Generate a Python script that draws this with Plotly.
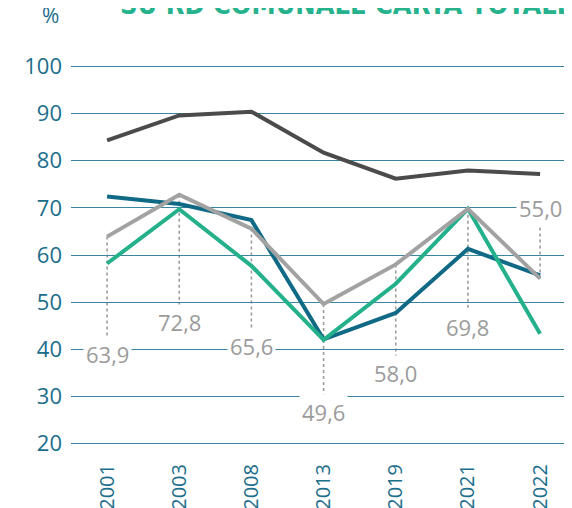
import plotly.graph_objects as go

# ---- data ----
years = ["2001", "2003", "2008", "2013", "2019", "2021", "2022"]
series_dark = [84.3, 89.6, 90.4, 81.7, 76.2, 77.9, 77.2]
series_blue = [72.4, 70.8, 67.4, 42.1, 47.7, 61.3, 55.7]
series_green = [58.2, 69.7, 57.7, 42.0, 53.9, 69.8, 43.3]
series_grey = [63.9, 72.8, 65.6, 49.6, 58.0, 69.8, 55.0]
y_ticks = [20, 30, 40, 50, 60, 70, 80, 90, 100]

# label placement (data units), kept apart from data
label_y = [39.1, 45.7, 40.8, 26.6, 34.9, 44.8, 69.9]
dash_end = [42.9, 49.3, 44.4, 30.4, 38.5, 48.4, 69.9]

TEAL = "#1b6d8b"
GRID = "#3a86a2"
FONT = "Open Sans"

fig = go.Figure()

styles = [
    (series_dark, "#4b4b4b"),
    (series_blue, "#106a86"),
    (series_green, "#24b08b"),
    (series_grey, "#a2a2a2"),
]

# dotted guide lines under the series
for i, v in enumerate(series_grey):
    fig.add_shape(type="line", xref="x", yref="y", x0=i, x1=i, y0=v, y1=dash_end[i],
                  line=dict(color="#9c9c9c", width=1.6, dash="dot"), layer="below")

for vals, col in styles:
    fig.add_trace(go.Scatter(x=years, y=vals, mode="lines",
                             line=dict(color=col, width=4), showlegend=False,
                             hoverinfo="skip"))

for i, v in enumerate(series_grey):
    fig.add_annotation(x=i, y=label_y[i], xref="x", yref="y",
                       text=f"{v:.1f}".replace(".", ","), showarrow=False,
                       font=dict(family=FONT, size=22, color="#9b9b9b"),
                       bgcolor="white", borderpad=2, xanchor="center", yanchor="middle")

fig.add_annotation(x=0.0, xref="paper", xanchor="center", xshift=-21,
                   y=1, yref="paper", yanchor="middle", yshift=50,
                   text="%", showarrow=False,
                   font=dict(family=FONT, size=21, color=TEAL))

fig.add_annotation(x=0.0923, xref="paper", xanchor="left",
                   y=1, yref="paper", yanchor="bottom", yshift=43,
                   text="<b>SU RD COMUNALE CARTA TOTALE</b>", showarrow=False,
                   font=dict(family="DejaVu Sans Condensed", size=27, color="#25b28c"))

fig.update_layout(
    width=572, height=508,
    margin=dict(l=63, r=0, t=57, b=71),
    plot_bgcolor="white", paper_bgcolor="white",
    xaxis=dict(type="category", range=[-0.5, 6.553], showgrid=False, zeroline=False,
               showline=False, tickangle=-90, ticks="", automargin=False,
               tickfont=dict(family=FONT, size=20, color=TEAL), ticklabelstandoff=14),
    yaxis=dict(range=[19.7, 100.3], tickvals=y_ticks, showgrid=True, gridcolor=GRID,
               gridwidth=1, zeroline=False, showline=False, ticks="", automargin=False,
               tickfont=dict(family=FONT, size=22, color=TEAL), ticklabelstandoff=8),
)

fig.write_html("out.html")
